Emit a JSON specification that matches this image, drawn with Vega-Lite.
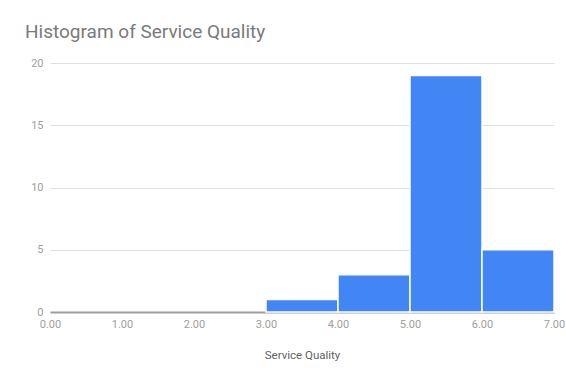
{
  "$schema": "https://vega.github.io/schema/vega-lite/v6.json",
  "width": 504,
  "height": 249,
  "autosize": {"type": "none"},
  "padding": {"left": 50, "top": 63, "right": 12, "bottom": 61},
  "background": "white",
  "title": {
    "text": "Histogram of Service Quality",
    "anchor": "start",
    "frame": "group",
    "orient": "top",
    "baseline": "alphabetic",
    "offset": 0,
    "dx": -25,
    "font": "Roboto",
    "fontSize": 19,
    "fontWeight": "normal",
    "color": "#7a7a7a"
  },
  "data": {
    "values": [
      {"bin_start": 3, "bin_end": 4, "count": 1},
      {"bin_start": 4, "bin_end": 5, "count": 3},
      {"bin_start": 5, "bin_end": 6, "count": 19},
      {"bin_start": 6, "bin_end": 7, "count": 5}
    ]
  },
  "mark": {"type": "bar", "color": "#4285F4", "stroke": "white", "strokeWidth": 1.5},
  "encoding": {
    "x": {
      "field": "bin_start",
      "type": "quantitative",
      "title": "Service Quality",
      "scale": {"domain": [0, 7], "nice": false, "zero": true},
      "axis": {
        "values": [0, 1, 2, 3, 4, 5, 6, 7],
        "format": ".2f",
        "grid": false,
        "ticks": false,
        "domain": true,
        "domainColor": "#9e9e9e",
        "domainWidth": 2,
        "labelPadding": 6,
        "labelFont": "Roboto",
        "labelFontSize": 11,
        "labelColor": "#9e9e9e",
        "labelFlush": false,
        "titleFont": "Roboto",
        "titleFontSize": 11.5,
        "titleFontWeight": "normal",
        "titleColor": "#616161",
        "titlePadding": 20
      }
    },
    "x2": {"field": "bin_end"},
    "y": {
      "field": "count",
      "type": "quantitative",
      "title": null,
      "scale": {"domain": [0, 20], "nice": false},
      "axis": {
        "values": [0, 5, 10, 15, 20],
        "grid": true,
        "gridColor": "#e0e0e0",
        "gridWidth": 1,
        "ticks": false,
        "domain": false,
        "labelPadding": 7,
        "labelFont": "Roboto",
        "labelFontSize": 11,
        "labelColor": "#9e9e9e"
      }
    },
    "y2": {"datum": 0}
  },
  "config": {"view": {"stroke": null}}
}
